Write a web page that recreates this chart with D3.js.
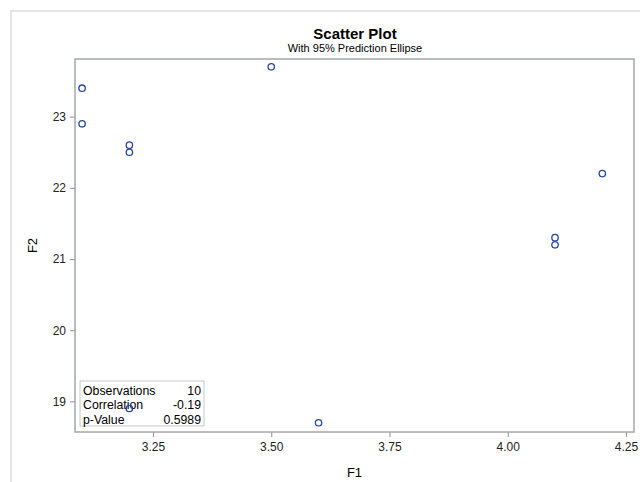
<!DOCTYPE html>
<html>
<head>
<meta charset="utf-8">
<script src="https://cdn.jsdelivr.net/npm/d3@7"></script>
<style>
  body { margin: 0; background: #fff; }
  svg { font-family: "Liberation Sans", Arial, sans-serif; }
</style>
</head>
<body>
<script>
// data
var f1 = [3.1, 3.1, 3.2, 3.2, 3.5, 4.1, 4.1, 4.2, 3.2, 3.6];
var f2 = [23.4, 22.9, 22.6, 22.5, 23.7, 21.3, 21.2, 22.2, 18.9, 18.7];
var xTicks = [3.25, 3.5, 3.75, 4.0, 4.25];
var yTicks = [19, 20, 21, 22, 23];
var statLabels = ['Observations', 'Correlation', 'p-Value'];
var statValues = ['10', '-0.19', '0.5989'];

var width = 640, height = 482;
// plot area edges (note: "top" is reserved on window)
var plotLeft = 75, plotRight = 634, plotTop = 59, plotBottom = 432;

var svg = d3.select('body').append('svg').attr('width', width).attr('height', height);

// outer frame
svg.append('rect').attr('x', 11).attr('y', 11).attr('width', 700).attr('height', 600)
  .attr('fill', 'none').attr('stroke', '#dcdcdc').attr('stroke-width', 1.5);

var x = d3.scaleLinear().domain([3.085, 4.267]).range([plotLeft, plotRight]);
var y = d3.scaleLinear().domain([18.57, 23.81]).range([plotBottom, plotTop]);

// titles
svg.append('text').attr('x', 355).attr('y', 39).attr('text-anchor', 'middle')
  .style('font-size', '15px').style('font-weight', 'bold').attr('fill', '#000').text('Scatter Plot');
svg.append('text').attr('x', 355).attr('y', 52).attr('text-anchor', 'middle')
  .style('font-size', '11px').attr('fill', '#000').text('With 95% Prediction Ellipse');

// axes
var xAxis = d3.axisBottom(x).tickValues(xTicks).tickFormat(d3.format('.2f')).tickSizeOuter(0).tickSize(5).tickPadding(5);
var yAxis = d3.axisLeft(y).tickValues(yTicks).tickFormat(d3.format('d')).tickSizeOuter(0).tickSize(5).tickPadding(4);

var gx = svg.append('g').attr('transform', 'translate(0,' + plotBottom + ')').call(xAxis);
var gy = svg.append('g').attr('transform', 'translate(' + plotLeft + ',0)').call(yAxis);
[gx, gy].forEach(function(g) {
  g.select('.domain').remove();
  g.selectAll('.tick line').attr('stroke', '#909090');
  g.selectAll('.tick text').attr('fill', '#222').style('font-size', '12px')
    .style('font-family', '"Liberation Sans", Arial, sans-serif');
});

// plot frame
svg.append('rect').attr('x', plotLeft).attr('y', plotTop)
  .attr('width', plotRight - plotLeft).attr('height', plotBottom - plotTop)
  .attr('fill', 'none').attr('stroke', '#a4a8ac').attr('stroke-width', 1.5);

// axis labels
svg.append('text').attr('x', (plotLeft + plotRight) / 2).attr('y', 477).attr('text-anchor', 'middle')
  .style('font-size', '13px').attr('fill', '#000').text('F1');
svg.append('text').attr('transform', 'translate(37,' + ((plotTop + plotBottom) / 2) + ') rotate(-90)')
  .attr('text-anchor', 'middle').style('font-size', '13px').attr('fill', '#000').text('F2');

// stats inset
var inset = svg.append('g');
inset.append('rect').attr('x', 80).attr('y', 381).attr('width', 124).attr('height', 45)
  .attr('fill', '#fff').attr('stroke', '#c8c8c8');
inset.selectAll('text.lab').data(statLabels).enter().append('text').attr('class', 'lab')
  .attr('x', 83).attr('y', function(d, i) { return 394.5 + i * 14.5; })
  .style('font-size', '12.3px').attr('fill', '#000').text(function(d) { return d; });
inset.selectAll('text.val').data(statValues).enter().append('text').attr('class', 'val')
  .attr('x', 201).attr('y', function(d, i) { return 394.5 + i * 14.5; }).attr('text-anchor', 'end')
  .style('font-size', '12.3px').attr('fill', '#000').text(function(d) { return d; });

// points
svg.selectAll('circle.pt').data(f1).enter().append('circle').attr('class', 'pt')
  .attr('cx', function(d) { return x(d); })
  .attr('cy', function(d, i) { return y(f2[i]); })
  .attr('r', 3.2).attr('fill', 'none').attr('stroke', '#2146a6').attr('stroke-width', 1.3);
</script>
</body>
</html>
